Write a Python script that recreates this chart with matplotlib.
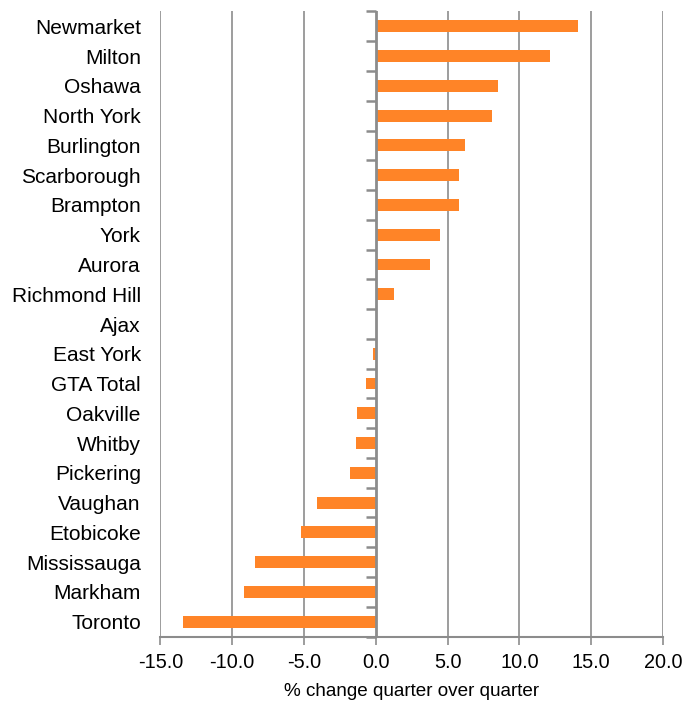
import numpy as np
import matplotlib
matplotlib.use("Agg")
import matplotlib.pyplot as plt

# Quarter-over-quarter % change by market
regions = ["Newmarket", "Milton", "Oshawa", "North York", "Burlington",
           "Scarborough", "Brampton", "York", "Aurora", "Richmond Hill",
           "Ajax", "East York", "GTA Total", "Oakville", "Whitby",
           "Pickering", "Vaughan", "Etobicoke", "Mississauga", "Markham",
           "Toronto"]
pct_change = [14.1, 12.1, 8.5, 8.1, 6.2,
              5.8, 5.8, 4.5, 3.8, 1.3,
              0.0, -0.2, -0.7, -1.3, -1.4,
              -1.8, -4.1, -5.2, -8.4, -9.2,
              -13.4]
xticks = [-15, -10, -5, 0, 5, 10, 15, 20]

BAR = "#FF8427"
GREY = "#8C8C8C"

plt.rcParams["font.family"] = ["Liberation Sans", "DejaVu Sans"]

fig = plt.figure(figsize=(6.85, 7.01), dpi=100)
ax = fig.add_axes([0.234, 0.092, 0.734, 0.8916])

y = np.arange(len(regions))
ax.barh(y, pct_change, height=0.4, color=BAR, zorder=3)

ax.set_xlim(-15, 20)
ax.set_ylim(len(regions) - 0.5, -0.5)

# vertical gridlines at each major tick (except zero, which is the axis)
for xv in xticks:
    if xv != 0:
        ax.axvline(xv, color=GREY, lw=1.2, zorder=1)

# category axis at zero with small boundary tick marks
ax.axvline(0, color=GREY, lw=2, zorder=4)
bounds = np.arange(len(regions) + 1) - 0.5
ax.plot(np.zeros_like(bounds), bounds, ls="none", marker=0, ms=7,
        mew=1.8, color=GREY, zorder=4, clip_on=False)

ax.set_yticks(y)
ax.set_yticklabels(regions, fontsize=15)
ax.tick_params(axis="y", length=0, pad=14)

ax.set_xticks(xticks)
ax.set_xticklabels([f"{v:.1f}" for v in xticks], fontsize=14.3)
ax.tick_params(axis="x", length=6, width=1.2, color=GREY, pad=6)
ax.set_xlabel("% change quarter over quarter", fontsize=13.6, labelpad=8)

for s in ["top", "right", "left"]:
    ax.spines[s].set_visible(False)
ax.spines["bottom"].set_color(GREY)
ax.spines["bottom"].set_linewidth(1.5)
ax.spines["bottom"].set_zorder(5)

fig.savefig("out.png", dpi=100)
